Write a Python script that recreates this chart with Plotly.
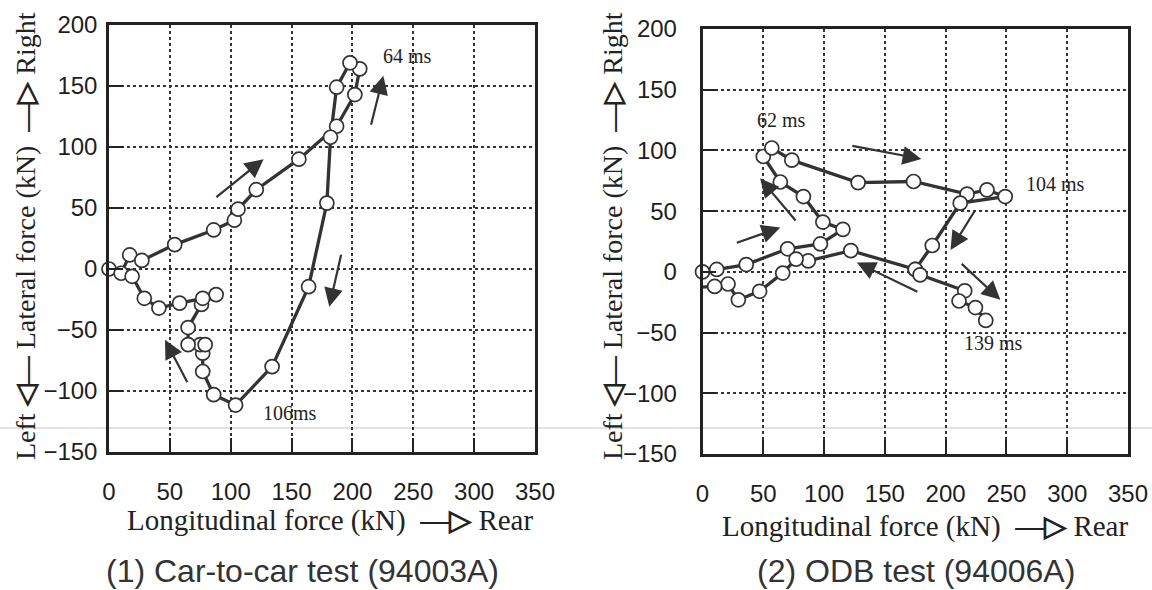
import plotly.graph_objects as go

# ---------------- data ----------------
# (1) Car-to-car test (94003A)
c2c_long = [0, 10, 17, 27, 54, 86, 103, 106, 121, 156, 187, 202, 206, 198, 187, 182, 179, 164, 134, 104,
            86, 77, 77, 75, 79, 65, 65, 76, 88, 77, 58, 41, 29, 19]
c2c_lat = [0, -3.5, 11.5, 7, 20, 32, 40, 49, 65, 90, 117, 143, 164, 169, 149, 108, 54, -14.5, -80, -111.5,
           -103, -84, -69, -62, -62, -62, -48, -29, -21, -24, -28, -32, -24, -6]

# (2) ODB test (94006A)  (None = break between the two branches)
odb_long = [0, 11.7, 36, 70, 97, 115.5, 99, 83, 64, 50, 57, 73.5, 128, 173.6, 217.6, 234, 249, 212, 189, 175,
            122, 87, 77, 66, 47, 29.5, 21, 10, -6, None, 175, 179, 215.7, 211, 224.5, 233]
odb_lat = [0, 2, 6, 19, 23, 35, 41, 62, 74, 95, 102, 92, 73.5, 74.4, 64, 67.5, 62, 56.6, 21.7, 2,
           17.5, 9, 10.5, -1, -16, -23, -10, -12, -13, None, 2, -2.5, -15.6, -24, -29.4, -40]

x_ticks = [0, 50, 100, 150, 200, 250, 300, 350]
y_ticks = [-150, -100, -50, 0, 50, 100, 150, 200]

# direction arrows: (tail_x, tail_y, head_x, head_y)
c2c_arrows = [(87, 58, 127, 90), (215, 117, 225.4, 158.5), (191, 13, 181, -31), (65, -94, 46, -58)]
odb_arrows = [(122, 104, 180, 93), (77.6, 41, 47.4, 77), (27, 23.6, 64, 36.5),
              (225, 52, 204, 18), (212, 7.7, 245, -23), (178, -17, 127, 7.7)]

c2c_labels = [("64 ms", 245, 175), ("106ms", 149, -118)]
odb_labels = [("62 ms", 65, 125), ("104 ms", 290, 72.5), ("139 ms", 239.5, -58.7)]

titles = ["(1) Car-to-car test (94003A)", "(2) ODB test (94006A)"]

# ---------------- figure ----------------
W, H = 1152, 590
INK = "#222222"
SERIF = "Liberation Serif, Times New Roman, serif"
SANS = "Liberation Sans, Arial, sans-serif"

fig = go.Figure()

line_style = dict(color="#333333", width=3.3)
marker_style = dict(symbol="circle", size=14, color="white", line=dict(color="#333333", width=1.7))

fig.add_trace(go.Scatter(x=c2c_long, y=c2c_lat, mode="lines+markers", line=line_style,
                         marker=marker_style, cliponaxis=False, xaxis="x", yaxis="y",
                         showlegend=False, hoverinfo="x+y"))
fig.add_trace(go.Scatter(x=odb_long, y=odb_lat, mode="lines+markers", line=line_style,
                         marker=marker_style, cliponaxis=False, xaxis="x2", yaxis="y2",
                         showlegend=False, hoverinfo="x+y", connectgaps=False))

def px_x(p):
    return p / W

def px_y(p):
    return 1 - p / H

axis_common = dict(
    showline=True, linecolor=INK, linewidth=2.5, mirror=True,
    ticks="inside", ticklen=14, tickwidth=1.5, tickcolor=INK,
    showgrid=True, gridcolor="#333333", gridwidth=1.5, griddash="dot",
    zeroline=False, tickfont=dict(family=SANS, size=24, color="#1e1e1e"),
    automargin=False,
)

fig.update_layout(
    width=W, height=H, margin=dict(l=0, r=0, t=0, b=0, pad=0, autoexpand=False),
    paper_bgcolor="white", plot_bgcolor="white", showlegend=False,
    xaxis=dict(axis_common, range=[0, 350], tickvals=x_ticks, domain=[px_x(109), px_x(535)],
               anchor="y", ticklabelstandoff=16),
    yaxis=dict(axis_common, range=[-150, 200], tickvals=y_ticks, domain=[px_y(452), px_y(25)],
               anchor="x", ticklabelstandoff=4),
    xaxis2=dict(axis_common, range=[0, 350], tickvals=x_ticks, domain=[px_x(702.5), px_x(1128)],
                anchor="y2", ticklabelstandoff=16),
    yaxis2=dict(axis_common, range=[-150, 200], tickvals=y_ticks, domain=[px_y(454), px_y(29)],
                anchor="x2", ticklabelstandoff=18),
)

ann = []
def add_arrows(arrows, xr, yr):
    for tx, ty, hx, hy in arrows:
        ann.append(dict(x=hx, y=hy, ax=tx, ay=ty, xref=xr, yref=yr, axref=xr, ayref=yr,
                        showarrow=True, arrowhead=2, arrowsize=1.7, arrowwidth=2.2,
                        arrowcolor="#333333", text=""))

add_arrows(c2c_arrows, "x", "y")
add_arrows(odb_arrows, "x2", "y2")

def label(text, x, y, xr, yr, size, family, color=INK, angle=0):
    ann.append(dict(x=x, y=y, xref=xr, yref=yr, text=text, showarrow=False,
                    xanchor="center", yanchor="middle", textangle=angle,
                    font=dict(family=family, size=size, color=color)))

for t, x, y in c2c_labels:
    label(t, x, y, "x", "y", 20, SERIF)
for t, x, y in odb_labels:
    label(t, x, y, "x2", "y2", 20, SERIF)

# axis titles
xtitle = "Longitudinal force (kN) &nbsp;<b>—▷</b> Rear"
label(xtitle, px_x(330), px_y(520), "paper", "paper", 29, SERIF)
label(xtitle, px_x(925), px_y(526), "paper", "paper", 29, SERIF)

ytitle = "Left <b>◁—</b> Lateral force (kN) &nbsp;<b>—▷</b> Right"
label(ytitle, px_x(25), px_y(236), "paper", "paper", 28, SERIF, angle=-90)
label(ytitle, px_x(612), px_y(236), "paper", "paper", 28, SERIF, angle=-90)

# subtitles
label(titles[0], px_x(302), px_y(571), "paper", "paper", 32, SANS, color="#333333")
label(titles[1], px_x(916), px_y(571), "paper", "paper", 32, SANS, color="#333333")

fig.update_layout(annotations=ann)

# faint scan line across the page
fig.add_shape(type="line", xref="paper", yref="paper", x0=0, x1=1, y0=px_y(428), y1=px_y(428),
              line=dict(color="#d8d8d8", width=1.5), layer="below")

fig.write_html("out.html", config={"displayModeBar": False},
               post_script="document.body.style.margin='0';document.body.style.overflow='hidden';")
